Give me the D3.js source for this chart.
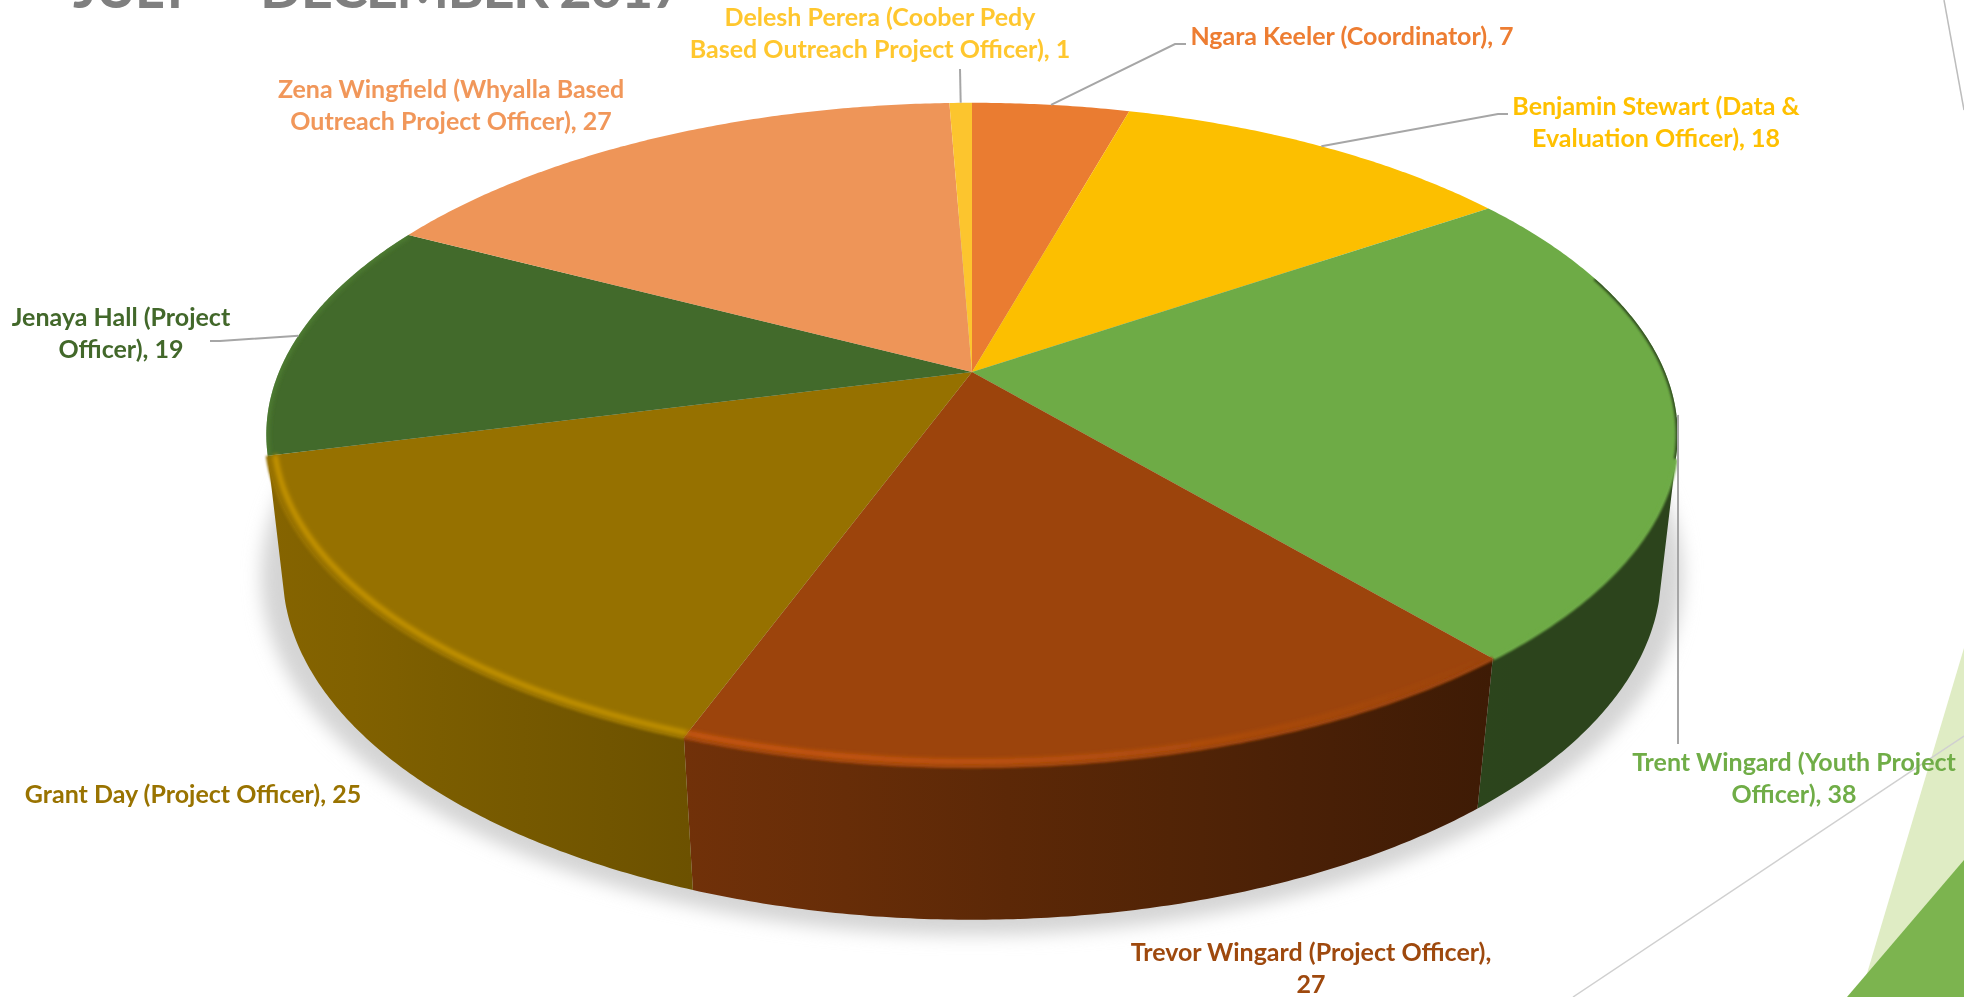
<!DOCTYPE html>
<html>
<head>
<meta charset="utf-8">
<script src="https://cdnjs.cloudflare.com/ajax/libs/d3/7.8.5/d3.min.js"></script>
<style>
    html, body { margin: 0; padding: 0; background: #fff; overflow: hidden; }
    .label { font-family: Lato, sans-serif; font-weight: 700; font-size: 25px; text-anchor: middle; }
    .title { font-family: Lato, sans-serif; font-weight: 700; font-size: 56px; fill: #7f7f7f; }
    .leader { fill: none; stroke: #a6a6a6; stroke-width: 2; }
</style>
</head>
<body>
<div class="chart"></div>
<script>
// data, clockwise from 12 o'clock
const names = [
    ["Ngara Keeler (Coordinator), 7"],
    ["Benjamin Stewart (Data &", "Evaluation Officer), 18"],
    ["Trent Wingard (Youth Project", "Officer), 38"],
    ["Trevor Wingard (Project Officer),", "27"],
    ["Grant Day (Project Officer), 25"],
    ["Jenaya Hall (Project", "Officer), 19"],
    ["Zena Wingfield (Whyalla Based", "Outreach Project Officer), 27"],
    ["Delesh Perera (Coober Pedy", "Based Outreach Project Officer), 1"]
];
const values = [7, 18, 38, 27, 25, 19, 27, 1];
const colors = ["#ea7c31", "#fcbf00", "#6eab46", "#9c440c", "#967100", "#426a2b", "#ee9558", "#fcc52e"];
const labelColors = ["#ed7d31", "#ffc000", "#70ad47", "#9e480e", "#997300", "#43682b", "#f1975a", "#ffc72e"];

// label centre x and first baseline
const labelPos = [[1352, 45], [1656, 115], [1794, 771], [1311, 961], [193, 803], [121, 326], [451, 98], [880, 26]];
// leader elbows from the slice rim to the label, null when there is no leader
const leaderPos = [
    [[1175, 44], [1186, 44]],
    [[1498, 114], [1508, 114]],
    [[1678, 416], [1678, 744]],
    null,
    null,
    [[220, 341], [210, 341]],
    null,
    [[960, 69]]
];

const width = 1964, height = 997;
const deg = Math.PI / 180;

// the two faces of the tilted pie, each a circle seen in perspective
const topFace = { cx: 972, cy: 372, a: 693, b: 320, p: 0.1887 };
const baseFace = { cx: 972, cy: 510, a: 678, b: 336, p: 0.18 };

const project = (face, angle, r = 1) => {
    const X = r * Math.sin(angle), Y = r * Math.cos(angle), w = 1 + face.p * Y;
    return [face.cx + face.a * X / w, face.cy - face.b * Y / w];
};
const arcPoints = (face, a0, a1, r = 1) => {
    const n = Math.max(2, Math.ceil((a1 - a0) * 120));
    return d3.range(n + 1).map(i => project(face, a0 + (a1 - a0) * i / n, r));
};

const line = d3.line();
const slices = d3.pie().sort(null).value(d => d)(values);

const svg = d3.select(".chart").append("svg")
    .attr("width", width)
    .attr("height", height)
    .style("display", "block");
const defs = svg.append("defs");

const blur = (id, dev) => defs.append("filter")
    .attr("id", id)
    .attr("filterUnits", "userSpaceOnUse")
    .attr("x", 0).attr("y", 0).attr("width", width).attr("height", height)
    .append("feGaussianBlur").attr("stdDeviation", dev);
blur("shadowBlur", 9);
blur("rimBlur", 2);
blur("softBlur", 1.2);
blur("textBlur", 0.35);

defs.append("clipPath").attr("id", "topClip")
    .append("path").attr("d", line(arcPoints(topFace, 0, Math.PI * 2)) + "Z");

// slide decoration behind the chart
const title = svg.append("text").attr("class", "title").attr("y", 8);
title.append("tspan").attr("x", 73).attr("textLength", 160).text("JULY - ");
title.append("tspan").attr("x", 260).attr("textLength", 424).text("DECEMBER 2017");
const decor = svg.append("g");
decor.append("path").attr("d", line([[1964, 648], [1860, 997], [1964, 997]])).attr("fill", "#dfecc4");
decor.append("path").attr("d", line([[1964, 860], [1847, 997], [1964, 997]])).attr("fill", "#7cb44f");
decor.append("path").attr("d", line([[1964, 736], [1573, 997]])).attr("stroke", "#d0d0d0").attr("stroke-width", 1.5);
decor.append("path").attr("d", line([[1944, 0], [1964, 110]])).attr("stroke", "#bdbdbd").attr("stroke-width", 1.5);

// soft shadow under the pie
svg.append("path")
    .attr("d", line(arcPoints(baseFace, 0, Math.PI * 2, 1.03)) + "Z")
    .attr("fill", "#d4d4d4")
    .attr("filter", "url(#shadowBlur)");

// side wall: only the front stretch shows, darkening from left to right
const frontFrom = 105 * deg, frontTo = slices[4].endAngle;
const shade = d3.scaleLinear().domain([285, 1480]).range([0.885, 0.4]).clamp(true);
const rimGlow = d3.scaleLinear().domain([285, 900, 1480]).range([1, 0.85, 0]).clamp(true);
const scaled = (c, s) => { const k = d3.rgb(c); return d3.rgb(k.r * s, k.g * s, k.b * s).formatHex(); };

const wall = svg.append("g");
slices.forEach((d, i) => {
    const a0 = Math.max(d.startAngle, frontFrom), a1 = Math.min(d.endAngle, frontTo);
    if (a0 >= a1) return;
    const pts = arcPoints(topFace, a0, a1).concat(arcPoints(baseFace, a0, a1).reverse());
    const xs = d3.extent(pts, p => p[0]);
    const grad = defs.append("linearGradient").attr("id", "wall" + i)
        .attr("gradientUnits", "userSpaceOnUse")
        .attr("x1", xs[0]).attr("x2", xs[1]).attr("y1", 0).attr("y2", 0);
    d3.range(6).forEach(k => {
        const x = xs[0] + (xs[1] - xs[0]) * k / 5;
        grad.append("stop").attr("offset", k / 5).attr("stop-color", scaled(colors[i], shade(x)));
    });
    wall.append("path").attr("d", line(pts) + "Z").attr("fill", `url(#wall${i})`);
});

// top face
const top_ = svg.append("g");
slices.forEach((d, i) => {
    const pts = [project(topFace, 0, 0)].concat(arcPoints(topFace, d.startAngle, d.endAngle));
    top_.append("path").attr("d", line(pts) + "Z").attr("fill", colors[i]);
});

// bevel along the front of the rim: blurred edge plus a lit band
const rim = svg.append("g");
slices.forEach((d, i) => {
    const a0 = Math.max(d.startAngle, frontFrom), a1 = Math.min(d.endAngle, frontTo);
    if (a0 >= a1) return;
    rim.append("path")
        .attr("d", line(arcPoints(topFace, a0, a1, 1)))
        .attr("fill", "none").attr("stroke", colors[i]).attr("stroke-width", 4)
        .attr("filter", "url(#softBlur)");
    const pts = arcPoints(topFace, a0, a1, 0.99);
    const xs = d3.extent(pts, p => p[0]);
    const grad = defs.append("linearGradient").attr("id", "rim" + i)
        .attr("gradientUnits", "userSpaceOnUse")
        .attr("x1", xs[0]).attr("x2", xs[1]).attr("y1", 0).attr("y2", 0);
    d3.range(6).forEach(k => {
        const x = xs[0] + (xs[1] - xs[0]) * k / 5;
        grad.append("stop").attr("offset", k / 5)
            .attr("stop-color", d3.rgb(colors[i]).brighter(0.8).formatHex())
            .attr("stop-opacity", rimGlow(x));
    });
    rim.append("path")
        .attr("d", line(pts))
        .attr("fill", "none").attr("stroke", `url(#rim${i})`).attr("stroke-width", 5)
        .attr("filter", "url(#rimBlur)");
});

// rim on the sides: lit on the left slice, dark on the right one
const sideRim = svg.append("g").attr("clip-path", "url(#topClip)");
sideRim.append("path")
    .attr("d", line(arcPoints(topFace, slices[5].startAngle, slices[5].endAngle)))
    .attr("fill", "none").attr("stroke", d3.rgb(colors[5]).brighter(0.6).formatHex())
    .attr("stroke-width", 6).attr("stroke-opacity", 0.7).attr("filter", "url(#rimBlur)");
sideRim.append("path")
    .attr("d", line(arcPoints(topFace, 72 * deg, frontFrom)))
    .attr("fill", "none").attr("stroke", scaled(colors[2], 0.45))
    .attr("stroke-width", 4).attr("filter", "url(#softBlur)");

// leader lines start from the rim at the middle of each slice
const leaders = svg.append("g");
slices.forEach((d, i) => {
    if (!leaderPos[i]) return;
    const start = project(topFace, (d.startAngle + d.endAngle) / 2);
    leaders.append("path").attr("class", "leader").attr("d", line([start].concat(leaderPos[i])));
});

// labels
const labels = svg.append("g").attr("filter", "url(#textBlur)");
names.forEach((lines, i) => {
    const t = labels.append("text").attr("class", "label").attr("fill", labelColors[i]);
    lines.forEach((s, k) => {
        t.append("tspan").attr("x", labelPos[i][0]).attr("y", labelPos[i][1] + k * 32).text(s);
    });
});
</script>
</body>
</html>
